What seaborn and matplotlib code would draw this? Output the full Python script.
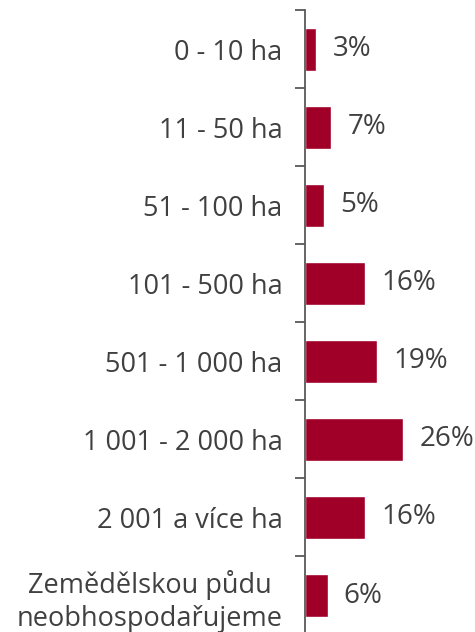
import matplotlib.pyplot as plt
import pandas as pd
import seaborn as sns

kategorie = ["0 - 10 ha", "11 - 50 ha", "51 - 100 ha", "101 - 500 ha",
             "501 - 1 000 ha", "1 001 - 2 000 ha", "2 001 a více ha",
             "Zemědělskou půdu\nneobhospodařujeme"]
podil = [3, 7, 5, 16, 19, 26, 16, 6]

df = pd.DataFrame({"kategorie": kategorie, "podil": podil})

sns.set_style("white")
plt.rcParams["font.family"] = ["Open Sans", "DejaVu Sans"]
text_color = "#404040"

fig = plt.figure(figsize=(4.75, 6.32), dpi=100)
ax = fig.add_axes([0.642, -0.004, 0.358, 0.988])

sns.barplot(data=df, x="podil", y="kategorie", color="#A00028",
            width=0.55, saturation=1, ax=ax)

for i, v in enumerate(podil):
    ax.text(v + 4.3, i, f"{v}%", va="center", ha="left",
            fontsize=20, color=text_color)

ax.set_xlim(0, 45)
ax.set_ylim(len(kategorie) - 0.5, -0.5)
ax.set_xlabel("")
ax.set_ylabel("")
ax.set_xticks([])

# ticky mezi kategoriemi
ax.set_yticks([i - 0.5 for i in range(len(kategorie) + 1)], minor=False)
ax.set_yticklabels([])
ax.set_yticks(range(len(kategorie)), minor=True)
ax.set_yticklabels(kategorie, minor=True, fontsize=19.5, color=text_color,
                   linespacing=1.25, multialignment="center")
ax.tick_params(axis="y", which="major", left=True, length=7, width=1.3,
               color="#595959", direction="out")
ax.tick_params(axis="y", which="minor", left=True, length=0, pad=16)

for s in ["top", "right", "bottom"]:
    ax.spines[s].set_visible(False)
ax.spines["left"].set_color("#595959")
ax.spines["left"].set_linewidth(1.3)

fig.savefig("out.png", dpi=100)
